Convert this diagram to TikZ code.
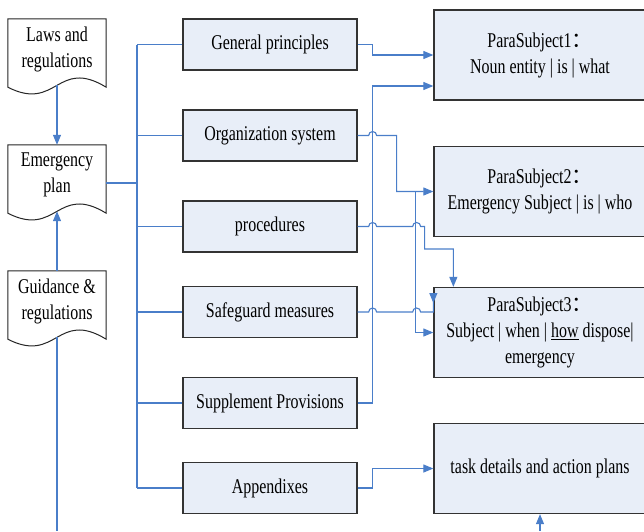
\documentclass[tikz,border=0pt]{standalone}
\usepackage{fontspec}
\setmainfont{Liberation Serif}
\newfontfamily\labelfont[FakeStretch=0.76]{Liberation Serif}
\newfontfamily\cjkfont{Noto Sans CJK SC}
\usetikzlibrary{arrows.meta,positioning,calc,backgrounds}
\definecolor{boxfill}{HTML}{E8EEF8}
\definecolor{boxline}{HTML}{333333}
\definecolor{linkblue}{HTML}{4A7EC9}
\newcommand{\fwcolon}{{\cjkfont ：}}

\begin{document}
\begin{tikzpicture}[x=1pt,y=-1pt,
  txt/.style={font=\labelfont\fontsize{21}{26}\selectfont, align=center, inner sep=0pt},
  docbox/.style={txt, minimum width=98, minimum height=60},
  docline/.style={draw=black!85, fill=white, line width=1pt},
  partbox/.style={txt, draw=boxline, fill=boxfill, line width=1.3pt, minimum width=174, minimum height=51},
  parabox/.style={txt, draw=boxline, fill=boxfill, line width=1.3pt, minimum width=212, minimum height=90},
  link/.style={draw=linkblue, line width=1.1pt},
  arrow/.style={link, -{Triangle[length=10pt,width=8pt]}}]
  \useasboundingbox (0,0) rectangle (644,531);
  \clip (0,0) rectangle (644,531);
  \coordinate (floor) at (0,531);

  % source documents
  \node[docbox] (laws)  at (57,49)  {Laws and\\regulations};
  \node[docbox] (emerg) at (57,175) {Emergency\\plan};
  \node[docbox] (guide) at (57,301) {Guidance \&\\regulations};
  \begin{scope}[on background layer]
    \foreach \n in {laws,emerg,guide}
      \draw[docline] (\n.north west) -- (\n.north east) -- ($(\n.south east)+(0,8)$)
        .. controls ($(\n.south)+(0,-22)$) and ($(\n.south)+(0,33)$) .. ($(\n.south west)+(0,8)$) -- cycle;
  \end{scope}

  % parts of the plan
  \node[partbox] (gen)  at (270,44.5)  {General principles};
  \node[partbox] (org)  at (270,135.5) {Organization system};
  \node[partbox] (proc) at (270,226.5) {procedures};
  \node[partbox] (safe) at (270,312)   {Safeguard measures};
  \node[partbox] (supp) at (270,403)   {Supplement Provisions};
  \node[partbox] (app)  at (270,488)   {Appendixes};

  % para subjects
  \node[parabox] (ps1)  at (540,55)    {ParaSubject1\fwcolon\\Noun entity | is | what};
  \node[parabox] (ps2)  at (540,191.5) {ParaSubject2\fwcolon\\Emergency Subject | is | who};
  \node[parabox] (ps3)  at (540,332.5) {ParaSubject3\fwcolon\\Subject | when | \underline{how} dispose|\\emergency};
  \node[parabox] (task) at (540,468.5) {task details and action plans};

  % left side
  \draw[arrow] ($(laws.south)+(0,6)$) -- (emerg.north);
  \draw[arrow] (guide.north) -- ($(emerg.south)+(0,6)$);
  \draw[link] ($(guide.south)+(0,6)$) -- (guide.south |- floor);
  \coordinate (busx) at (137,183);
  \draw[link] ($(emerg.east)+(0,8)$) -- (busx);
  \draw[link] (busx |- gen.west) -- (busx |- app.west);
  \foreach \n in {gen,org,proc,safe,supp,app} \draw[link] (busx |- \n.west) -- (\n.west);

  % right side
  \coordinate (split) at ($(ps2.west)+(-18,0)$);
  \draw[arrow] (gen.east) -- ++(15,0) |- (ps1.west);
  \draw[arrow] (supp.east) -- ++(15,0) |- ($(ps1.west)+(0,31)$);
  \draw[arrow] (org.east) -- ++(11,0) arc[start angle=180,end angle=360,radius=4] -- ++(20,0) |- (ps2.west);
  \draw[arrow] (split) |- (ps3.west);
  \draw[arrow] (proc.east) -- ++(11,0) arc[start angle=180,end angle=360,radius=4] -- ++(36,0)
    arc[start angle=180,end angle=360,radius=4] -- ++(4,0) -- ++(0,22.5) -| ($(ps3.north west)+(20,0)$);
  \draw[arrow] (safe.east) -- ++(11,0) arc[start angle=180,end angle=360,radius=4] -- ++(36,0)
    arc[start angle=180,end angle=360,radius=4] -- (ps3.west |- safe.east) -- ++(0,-18) -- ++(0,9);
  \draw[arrow] (app.east) -- ++(15,0) |- (task.west);
  \draw[arrow] (task.south |- floor) -- (task.south);
\end{tikzpicture}
\end{document}
